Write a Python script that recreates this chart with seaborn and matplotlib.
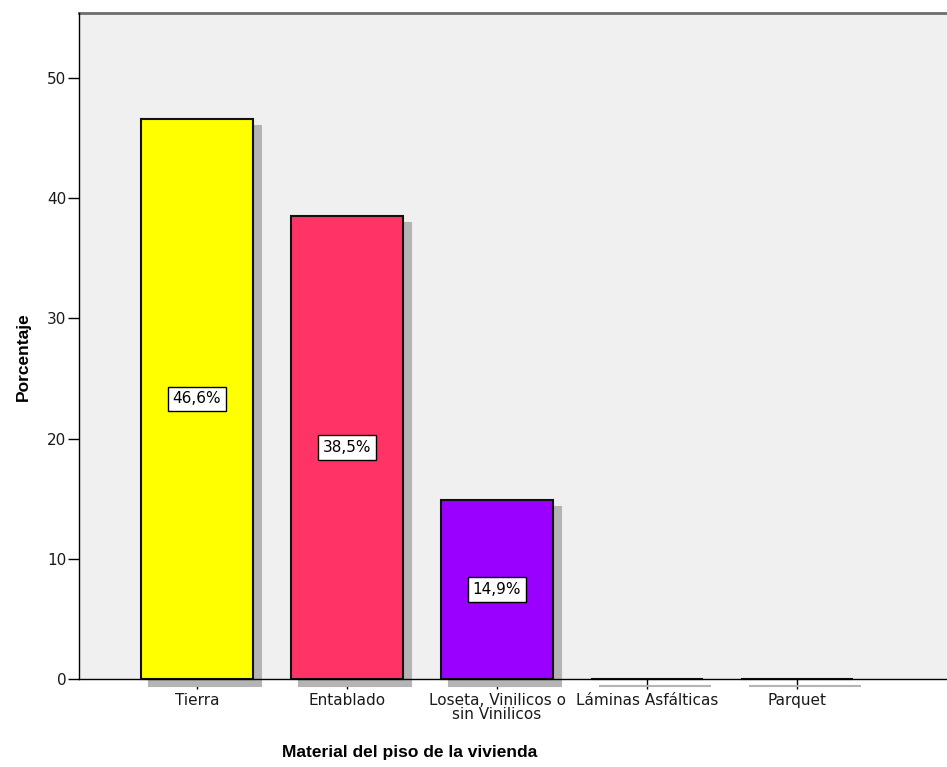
import matplotlib
matplotlib.use("Agg")
import matplotlib.pyplot as plt
import matplotlib.transforms as mtransforms
import seaborn as sns
import pandas as pd

# Material del piso de la vivienda (porcentaje)
categorias = ["Tierra", "Entablado", "Loseta, Vinilicos o\nsin Vinilicos",
              "Láminas Asfálticas", "Parquet"]
porcentajes = [46.6, 38.5, 14.9, 0.0, 0.0]
etiquetas = ["46,6%", "38,5%", "14,9%", "", ""]
colores = ["#ffff00", "#ff3366", "#9900ff", "#000000", "#000000"]
y_ticks = [0, 10, 20, 30, 40, 50]

df = pd.DataFrame({"material": categorias, "pct": porcentajes})

sns.set_theme(style="white")
plt.rcParams["font.family"] = ["DejaVu Sans"]

W, H, DPI = 947, 767, 100
fig = plt.figure(figsize=(W / DPI, H / DPI), dpi=DPI)
fig.patch.set_facecolor("white")
ax = fig.add_axes([79 / W, (H - 679) / H, (W - 79) / W, (679 - 13) / H])
ax.set_facecolor("#f0f0f0")

bar_w = 112 / 150

# drop shadows: gray bars shifted right and down
sns.barplot(data=df, x="material", y="pct", ax=ax, color="#b4b4b4",
            width=bar_w, edgecolor="#b4b4b4", linewidth=1.5, errorbar=None,
            saturation=1, zorder=1)
shift = mtransforms.ScaledTranslation(8 / DPI, -7 / DPI, fig.dpi_scale_trans)
for p in ax.patches:
    p.set_transform(p.get_data_transform() + shift)
    p.set_clip_on(False)
n_shadow = len(ax.patches)

# main bars
sns.barplot(data=df, x="material", y="pct", hue="material", ax=ax,
            palette=colores, width=bar_w, edgecolor="#111111", linewidth=1.5,
            errorbar=None, saturation=1, legend=False, zorder=2, dodge=False)
for p in ax.patches[n_shadow:]:
    p.set_clip_on(False)

# value labels in the middle of each bar
for i, (v, t) in enumerate(zip(porcentajes, etiquetas)):
    if t:
        ax.text(i, v / 2, t, ha="center", va="center", fontsize=11,
                color="black", zorder=5,
                bbox=dict(boxstyle="square,pad=0.3", facecolor="white",
                          edgecolor="black", linewidth=1.0))

ax.set_xlim(-0.787, (947 - 197) / 150)
ax.set_ylim(0, 55.4)
ax.set_yticks(y_ticks)
ax.set_yticklabels([str(t) for t in y_ticks], fontsize=11, color="#1a1a1a")
ax.set_xticks(range(len(categorias)))
ax.set_xticklabels(categorias, fontsize=11, linespacing=0.95,
                   color="#1a1a1a")

ax.tick_params(axis="x", direction="out", length=7, width=1, color="black",
               pad=3, bottom=True)
ax.tick_params(axis="y", direction="out", length=8, width=1, color="black",
               pad=1, left=True)

for side in ["left", "bottom"]:
    ax.spines[side].set_color("black")
    ax.spines[side].set_linewidth(1.0)
    ax.spines[side].set_zorder(3)
ax.spines["top"].set_color("#6e6e6e")
ax.spines["top"].set_linewidth(2.0)
ax.spines["right"].set_visible(False)

ax.set_xlabel("")
ax.set_ylabel("")
fig.text(23 / W, 1 - 357 / H, "Porcentaje", rotation=90, ha="center",
         va="center", fontsize=12.5, fontweight="bold", color="black",
         family="Liberation Sans")
fig.text(410 / W, 1 - 752 / H, "Material del piso de la vivienda",
         ha="center", va="center", fontsize=12.5, fontweight="bold",
         color="black", family="Liberation Sans")

fig.savefig("out.png", dpi=DPI, facecolor="white")
